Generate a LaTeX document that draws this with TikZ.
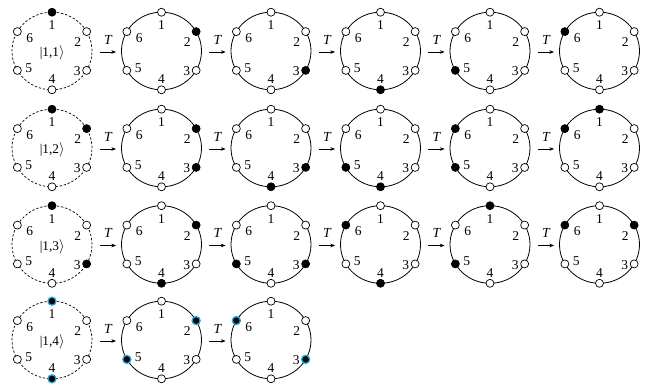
\documentclass[tikz,border=0pt]{standalone}
\usepackage{fontspec}
\setmainfont{Liberation Serif}
\usetikzlibrary{shapes.geometric,arrows.meta,calc}
\definecolor{ringcyan}{RGB}{25,170,220}
\tikzset{
  ring/.style={ellipse, draw, line width=0.8pt, minimum width=80pt, minimum height=77.6pt, inner sep=0pt},
  initring/.style={ring, line width=0.7pt, dash pattern=on 2.4pt off 1.8pt},
  site/.style={circle, draw, fill=white, line width=0.7pt, minimum size=8pt, inner sep=0pt},
  occ/.style={site, fill=black},
  occc/.style={site, fill=black, draw=ringcyan, line width=1.3pt},
  dot/.code={\ifcase#1\relax\pgfkeysalso{/tikz/site}\or\pgfkeysalso{/tikz/occ}\else\pgfkeysalso{/tikz/occc}\fi},
  lbl/.style={font=\fontsize{13.5}{14}\selectfont, inner sep=0pt},
  ket/.style={font=\fontsize{13.3}{14}\selectfont, inner sep=0pt},
  tarrow/.style={-{Stealth[length=4.8pt,width=3.6pt]}, line width=0.7pt},
  tlab/.style={above=7.5pt, font=\fontsize{13.8}{14}\selectfont\itshape, inner sep=0pt},
}
\newcommand\Ring[6]{%
  \node[#4] (#1) at (#2,#3) {};
  \foreach \k/\a in {1/90,2/30,3/-30,4/-90,5/210,6/150}{%
    \gdef\isocc{0}%
    \foreach \o in {#5}{\ifnum\o=\k\relax\gdef\isocc{#6}\fi}%
    \node[dot=\isocc] (#1-\k) at ($(#1.center)+(\a:40 and 38.8)$) {};
  }
  \foreach \k/\dx/\dy in {1/0/25.5, 2/25.8/8.5, 3/25.2/-20.2, 4/0/-28.5, 5/-23.2/-16.8, 6/-22.2/13.3}{%
    \node[lbl] (#1-l\k) at ($(#1.center)+(\dx,\dy)$) {\k};
  }
}
\newcommand\Tarrow[2]{%
  \draw[tarrow] ([shift={(7.5,-1)}]#1.east) -- node[tlab] (#1-T) {T} ([shift={(-5,-1)}]#2.west);
}
\begin{document}
\begin{tikzpicture}[x=1pt,y=1pt]
\path[use as bounding box] (0,0) rectangle (649,-385);
% row 1
\Ring{a1}{52}{-51}{initring}{1}{1}
\node[ket] (a1-ket) at ($(a1.center)+(0.2,-2.3)$) {|1,1$\rangle$};
\Ring{a2}{161.5}{-51}{ring}{2}{1}
\Ring{a3}{271}{-51}{ring}{3}{1}
\Ring{a4}{380.5}{-51}{ring}{4}{1}
\Ring{a5}{490}{-51}{ring}{5}{1}
\Ring{a6}{599.5}{-51}{ring}{6}{1}
\Tarrow{a1}{a2}\Tarrow{a2}{a3}\Tarrow{a3}{a4}\Tarrow{a4}{a5}\Tarrow{a5}{a6}
% row 2
\Ring{b1}{52}{-148}{initring}{1,2}{1}
\node[ket] (b1-ket) at ($(b1.center)+(0.2,-2.3)$) {|1,2$\rangle$};
\Ring{b2}{161.5}{-148}{ring}{2,3}{1}
\Ring{b3}{271}{-148}{ring}{3,4}{1}
\Ring{b4}{380.5}{-148}{ring}{4,5}{1}
\Ring{b5}{490}{-148}{ring}{5,6}{1}
\Ring{b6}{599.5}{-148}{ring}{6,1}{1}
\Tarrow{b1}{b2}\Tarrow{b2}{b3}\Tarrow{b3}{b4}\Tarrow{b4}{b5}\Tarrow{b5}{b6}
% row 3
\Ring{c1}{52}{-244.5}{initring}{1,3}{1}
\node[ket] (c1-ket) at ($(c1.center)+(0.2,-2.3)$) {|1,3$\rangle$};
\Ring{c2}{161.5}{-244.5}{ring}{2,4}{1}
\Ring{c3}{271}{-244.5}{ring}{3,5}{1}
\Ring{c4}{380.5}{-244.5}{ring}{4,6}{1}
\Ring{c5}{490}{-244.5}{ring}{5,1}{1}
\Ring{c6}{599.5}{-244.5}{ring}{6,2}{1}
\Tarrow{c1}{c2}\Tarrow{c2}{c3}\Tarrow{c3}{c4}\Tarrow{c4}{c5}\Tarrow{c5}{c6}
% row 4
\Ring{d1}{52}{-340}{initring}{1,4}{2}
\node[ket] (d1-ket) at ($(d1.center)+(0.2,-2.3)$) {|1,4$\rangle$};
\Ring{d2}{161.5}{-340}{ring}{2,5}{2}
\Ring{d3}{271}{-340}{ring}{3,6}{2}
\Tarrow{d1}{d2}\Tarrow{d2}{d3}
\end{tikzpicture}
\end{document}
